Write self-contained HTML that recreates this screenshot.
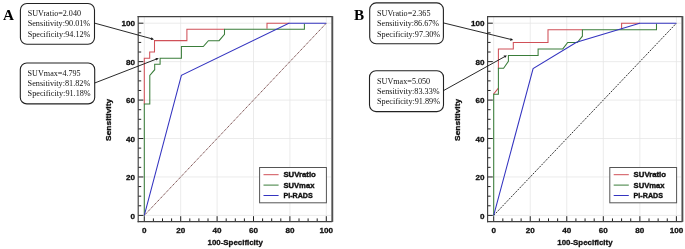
<!DOCTYPE html>
<html><head><meta charset="utf-8"><style>
html,body{margin:0;padding:0;background:#fff;}
svg{display:block;will-change:transform;}
.tl{font-family:"Liberation Sans",sans-serif;font-weight:bold;font-size:8.1px;fill:#111;stroke:#111;stroke-width:0.3px;}
.ax{font-family:"Liberation Sans",sans-serif;font-weight:bold;font-size:7.9px;fill:#111;stroke:#111;stroke-width:0.3px;}
.lg{font-family:"Liberation Sans",sans-serif;font-weight:bold;font-size:7.8px;fill:#111;stroke:#111;stroke-width:0.4px;}
.bx{font-family:"Liberation Serif",serif;font-size:9.2px;fill:#111;}
.pl{font-family:"Liberation Serif",serif;font-weight:bold;font-size:15.2px;fill:#000;}
</style></head><body>
<svg width="685" height="249" viewBox="0 0 685 249">
<rect width="685" height="249" fill="#fff"/>
<line x1="144.30" y1="16.9" x2="144.30" y2="221" stroke="#e6e6e6" stroke-width="0.8"/>
<line x1="138.60" y1="215.40" x2="331.00" y2="215.40" stroke="#e6e6e6" stroke-width="0.8"/>
<line x1="180.70" y1="16.9" x2="180.70" y2="221" stroke="#e6e6e6" stroke-width="0.8"/>
<line x1="138.60" y1="176.96" x2="331.00" y2="176.96" stroke="#e6e6e6" stroke-width="0.8"/>
<line x1="217.10" y1="16.9" x2="217.10" y2="221" stroke="#e6e6e6" stroke-width="0.8"/>
<line x1="138.60" y1="138.52" x2="331.00" y2="138.52" stroke="#e6e6e6" stroke-width="0.8"/>
<line x1="253.50" y1="16.9" x2="253.50" y2="221" stroke="#e6e6e6" stroke-width="0.8"/>
<line x1="138.60" y1="100.08" x2="331.00" y2="100.08" stroke="#e6e6e6" stroke-width="0.8"/>
<line x1="289.90" y1="16.9" x2="289.90" y2="221" stroke="#e6e6e6" stroke-width="0.8"/>
<line x1="138.60" y1="61.64" x2="331.00" y2="61.64" stroke="#e6e6e6" stroke-width="0.8"/>
<line x1="326.30" y1="16.9" x2="326.30" y2="221" stroke="#e6e6e6" stroke-width="0.8"/>
<line x1="138.60" y1="23.20" x2="331.00" y2="23.20" stroke="#e6e6e6" stroke-width="0.8"/>
<line x1="144.30" y1="221.4" x2="144.30" y2="216.20" stroke="#222" stroke-width="1"/>
<line x1="138.20" y1="215.40" x2="143.40" y2="215.40" stroke="#222" stroke-width="1"/>
<line x1="153.40" y1="221.4" x2="153.40" y2="218.40" stroke="#222" stroke-width="1"/>
<line x1="138.20" y1="205.79" x2="141.20" y2="205.79" stroke="#222" stroke-width="1"/>
<line x1="162.50" y1="221.4" x2="162.50" y2="218.40" stroke="#222" stroke-width="1"/>
<line x1="138.20" y1="196.18" x2="141.20" y2="196.18" stroke="#222" stroke-width="1"/>
<line x1="171.60" y1="221.4" x2="171.60" y2="218.40" stroke="#222" stroke-width="1"/>
<line x1="138.20" y1="186.57" x2="141.20" y2="186.57" stroke="#222" stroke-width="1"/>
<line x1="180.70" y1="221.4" x2="180.70" y2="216.20" stroke="#222" stroke-width="1"/>
<line x1="138.20" y1="176.96" x2="143.40" y2="176.96" stroke="#222" stroke-width="1"/>
<line x1="189.80" y1="221.4" x2="189.80" y2="218.40" stroke="#222" stroke-width="1"/>
<line x1="138.20" y1="167.35" x2="141.20" y2="167.35" stroke="#222" stroke-width="1"/>
<line x1="198.90" y1="221.4" x2="198.90" y2="218.40" stroke="#222" stroke-width="1"/>
<line x1="138.20" y1="157.74" x2="141.20" y2="157.74" stroke="#222" stroke-width="1"/>
<line x1="208.00" y1="221.4" x2="208.00" y2="218.40" stroke="#222" stroke-width="1"/>
<line x1="138.20" y1="148.13" x2="141.20" y2="148.13" stroke="#222" stroke-width="1"/>
<line x1="217.10" y1="221.4" x2="217.10" y2="216.20" stroke="#222" stroke-width="1"/>
<line x1="138.20" y1="138.52" x2="143.40" y2="138.52" stroke="#222" stroke-width="1"/>
<line x1="226.20" y1="221.4" x2="226.20" y2="218.40" stroke="#222" stroke-width="1"/>
<line x1="138.20" y1="128.91" x2="141.20" y2="128.91" stroke="#222" stroke-width="1"/>
<line x1="235.30" y1="221.4" x2="235.30" y2="218.40" stroke="#222" stroke-width="1"/>
<line x1="138.20" y1="119.30" x2="141.20" y2="119.30" stroke="#222" stroke-width="1"/>
<line x1="244.40" y1="221.4" x2="244.40" y2="218.40" stroke="#222" stroke-width="1"/>
<line x1="138.20" y1="109.69" x2="141.20" y2="109.69" stroke="#222" stroke-width="1"/>
<line x1="253.50" y1="221.4" x2="253.50" y2="216.20" stroke="#222" stroke-width="1"/>
<line x1="138.20" y1="100.08" x2="143.40" y2="100.08" stroke="#222" stroke-width="1"/>
<line x1="262.60" y1="221.4" x2="262.60" y2="218.40" stroke="#222" stroke-width="1"/>
<line x1="138.20" y1="90.47" x2="141.20" y2="90.47" stroke="#222" stroke-width="1"/>
<line x1="271.70" y1="221.4" x2="271.70" y2="218.40" stroke="#222" stroke-width="1"/>
<line x1="138.20" y1="80.86" x2="141.20" y2="80.86" stroke="#222" stroke-width="1"/>
<line x1="280.80" y1="221.4" x2="280.80" y2="218.40" stroke="#222" stroke-width="1"/>
<line x1="138.20" y1="71.25" x2="141.20" y2="71.25" stroke="#222" stroke-width="1"/>
<line x1="289.90" y1="221.4" x2="289.90" y2="216.20" stroke="#222" stroke-width="1"/>
<line x1="138.20" y1="61.64" x2="143.40" y2="61.64" stroke="#222" stroke-width="1"/>
<line x1="299.00" y1="221.4" x2="299.00" y2="218.40" stroke="#222" stroke-width="1"/>
<line x1="138.20" y1="52.03" x2="141.20" y2="52.03" stroke="#222" stroke-width="1"/>
<line x1="308.10" y1="221.4" x2="308.10" y2="218.40" stroke="#222" stroke-width="1"/>
<line x1="138.20" y1="42.42" x2="141.20" y2="42.42" stroke="#222" stroke-width="1"/>
<line x1="317.20" y1="221.4" x2="317.20" y2="218.40" stroke="#222" stroke-width="1"/>
<line x1="138.20" y1="32.81" x2="141.20" y2="32.81" stroke="#222" stroke-width="1"/>
<line x1="326.30" y1="221.4" x2="326.30" y2="216.20" stroke="#222" stroke-width="1"/>
<line x1="138.20" y1="23.20" x2="143.40" y2="23.20" stroke="#222" stroke-width="1"/>
<text x="144.30" y="232.9" text-anchor="middle" class="tl">0</text>
<text x="135.00" y="218.60" text-anchor="end" class="tl">0</text>
<text x="180.70" y="232.9" text-anchor="middle" class="tl">20</text>
<text x="135.00" y="180.16" text-anchor="end" class="tl">20</text>
<text x="217.10" y="232.9" text-anchor="middle" class="tl">40</text>
<text x="135.00" y="141.72" text-anchor="end" class="tl">40</text>
<text x="253.50" y="232.9" text-anchor="middle" class="tl">60</text>
<text x="135.00" y="103.28" text-anchor="end" class="tl">60</text>
<text x="289.90" y="232.9" text-anchor="middle" class="tl">80</text>
<text x="135.00" y="64.84" text-anchor="end" class="tl">80</text>
<text x="326.30" y="232.9" text-anchor="middle" class="tl">100</text>
<text x="135.00" y="26.40" text-anchor="end" class="tl">100</text>
<line x1="138.20" y1="16.0" x2="138.20" y2="222.3" stroke="#404040" stroke-width="1.15"/>
<line x1="137.60" y1="16.6" x2="332.30" y2="16.6" stroke="#404040" stroke-width="1.15"/>
<line x1="137.60" y1="221.6" x2="332.30" y2="221.6" stroke="#404040" stroke-width="1.4"/>
<line x1="332.30" y1="16.1" x2="332.30" y2="221.9" stroke="#505050" stroke-width="1.9"/>
<text x="235.20" y="245.2" text-anchor="middle" class="ax">100-Specificity</text>
<text transform="translate(110.90,119.9) rotate(-90)" x="-21" class="ax" textLength="42" lengthAdjust="spacingAndGlyphs">Sensitivity</text>
<path d="M144.3,215.4 L326.3,23.2" stroke="#6a3838" stroke-width="1" stroke-dasharray="1.2,0.8" fill="none"/>
<path d="M144.3,104.2 V58.3 H149.7 V52 H154.5 V40.6 H186.9 V29.2 H224.5 M267,28.7 V23.2 H289.5" stroke="#d05058" stroke-width="1.05" fill="none"/>
<path d="M144.3,215.4 V103.9 H149.8 V75.4 L154.7,69.7 V64.2 H160.1 V58.2 H181.4 V46.5 H203.3 L208.4,40.7 H219.1 L224.5,34.3 V29.2 H304.4 V23.75" stroke="#3a7d3a" stroke-width="1.05" fill="none"/>
<path d="M144.3,215.4 L181.4,75.4 L288.8,23.2 H326.3" stroke="#3434c0" stroke-width="1.05" fill="none"/>
<rect x="259.60" y="167.5" width="66.8" height="35.3" fill="#fff" stroke="#555" stroke-width="1"/>
<line x1="263.50" y1="174.70" x2="278.60" y2="174.70" stroke="#d05058" stroke-width="1"/>
<text x="283.40" y="177.20" class="lg" textLength="32.4" lengthAdjust="spacingAndGlyphs">SUVratio</text>
<line x1="263.50" y1="185.10" x2="278.60" y2="185.10" stroke="#3a7d3a" stroke-width="1"/>
<text x="283.40" y="187.60" class="lg" textLength="31.0" lengthAdjust="spacingAndGlyphs">SUVmax</text>
<line x1="263.50" y1="195.50" x2="278.60" y2="195.50" stroke="#3434c0" stroke-width="1"/>
<text x="283.40" y="198.00" class="lg" textLength="29.4" lengthAdjust="spacingAndGlyphs">PI-RADS</text>
<line x1="493.70" y1="16.9" x2="493.70" y2="221" stroke="#e6e6e6" stroke-width="0.8"/>
<line x1="488.00" y1="215.40" x2="681.10" y2="215.40" stroke="#e6e6e6" stroke-width="0.8"/>
<line x1="530.24" y1="16.9" x2="530.24" y2="221" stroke="#e6e6e6" stroke-width="0.8"/>
<line x1="488.00" y1="176.96" x2="681.10" y2="176.96" stroke="#e6e6e6" stroke-width="0.8"/>
<line x1="566.78" y1="16.9" x2="566.78" y2="221" stroke="#e6e6e6" stroke-width="0.8"/>
<line x1="488.00" y1="138.52" x2="681.10" y2="138.52" stroke="#e6e6e6" stroke-width="0.8"/>
<line x1="603.32" y1="16.9" x2="603.32" y2="221" stroke="#e6e6e6" stroke-width="0.8"/>
<line x1="488.00" y1="100.08" x2="681.10" y2="100.08" stroke="#e6e6e6" stroke-width="0.8"/>
<line x1="639.86" y1="16.9" x2="639.86" y2="221" stroke="#e6e6e6" stroke-width="0.8"/>
<line x1="488.00" y1="61.64" x2="681.10" y2="61.64" stroke="#e6e6e6" stroke-width="0.8"/>
<line x1="676.40" y1="16.9" x2="676.40" y2="221" stroke="#e6e6e6" stroke-width="0.8"/>
<line x1="488.00" y1="23.20" x2="681.10" y2="23.20" stroke="#e6e6e6" stroke-width="0.8"/>
<line x1="493.70" y1="221.4" x2="493.70" y2="216.20" stroke="#222" stroke-width="1"/>
<line x1="487.60" y1="215.40" x2="492.80" y2="215.40" stroke="#222" stroke-width="1"/>
<line x1="502.83" y1="221.4" x2="502.83" y2="218.40" stroke="#222" stroke-width="1"/>
<line x1="487.60" y1="205.79" x2="490.60" y2="205.79" stroke="#222" stroke-width="1"/>
<line x1="511.97" y1="221.4" x2="511.97" y2="218.40" stroke="#222" stroke-width="1"/>
<line x1="487.60" y1="196.18" x2="490.60" y2="196.18" stroke="#222" stroke-width="1"/>
<line x1="521.11" y1="221.4" x2="521.11" y2="218.40" stroke="#222" stroke-width="1"/>
<line x1="487.60" y1="186.57" x2="490.60" y2="186.57" stroke="#222" stroke-width="1"/>
<line x1="530.24" y1="221.4" x2="530.24" y2="216.20" stroke="#222" stroke-width="1"/>
<line x1="487.60" y1="176.96" x2="492.80" y2="176.96" stroke="#222" stroke-width="1"/>
<line x1="539.38" y1="221.4" x2="539.38" y2="218.40" stroke="#222" stroke-width="1"/>
<line x1="487.60" y1="167.35" x2="490.60" y2="167.35" stroke="#222" stroke-width="1"/>
<line x1="548.51" y1="221.4" x2="548.51" y2="218.40" stroke="#222" stroke-width="1"/>
<line x1="487.60" y1="157.74" x2="490.60" y2="157.74" stroke="#222" stroke-width="1"/>
<line x1="557.64" y1="221.4" x2="557.64" y2="218.40" stroke="#222" stroke-width="1"/>
<line x1="487.60" y1="148.13" x2="490.60" y2="148.13" stroke="#222" stroke-width="1"/>
<line x1="566.78" y1="221.4" x2="566.78" y2="216.20" stroke="#222" stroke-width="1"/>
<line x1="487.60" y1="138.52" x2="492.80" y2="138.52" stroke="#222" stroke-width="1"/>
<line x1="575.92" y1="221.4" x2="575.92" y2="218.40" stroke="#222" stroke-width="1"/>
<line x1="487.60" y1="128.91" x2="490.60" y2="128.91" stroke="#222" stroke-width="1"/>
<line x1="585.05" y1="221.4" x2="585.05" y2="218.40" stroke="#222" stroke-width="1"/>
<line x1="487.60" y1="119.30" x2="490.60" y2="119.30" stroke="#222" stroke-width="1"/>
<line x1="594.19" y1="221.4" x2="594.19" y2="218.40" stroke="#222" stroke-width="1"/>
<line x1="487.60" y1="109.69" x2="490.60" y2="109.69" stroke="#222" stroke-width="1"/>
<line x1="603.32" y1="221.4" x2="603.32" y2="216.20" stroke="#222" stroke-width="1"/>
<line x1="487.60" y1="100.08" x2="492.80" y2="100.08" stroke="#222" stroke-width="1"/>
<line x1="612.46" y1="221.4" x2="612.46" y2="218.40" stroke="#222" stroke-width="1"/>
<line x1="487.60" y1="90.47" x2="490.60" y2="90.47" stroke="#222" stroke-width="1"/>
<line x1="621.59" y1="221.4" x2="621.59" y2="218.40" stroke="#222" stroke-width="1"/>
<line x1="487.60" y1="80.86" x2="490.60" y2="80.86" stroke="#222" stroke-width="1"/>
<line x1="630.73" y1="221.4" x2="630.73" y2="218.40" stroke="#222" stroke-width="1"/>
<line x1="487.60" y1="71.25" x2="490.60" y2="71.25" stroke="#222" stroke-width="1"/>
<line x1="639.86" y1="221.4" x2="639.86" y2="216.20" stroke="#222" stroke-width="1"/>
<line x1="487.60" y1="61.64" x2="492.80" y2="61.64" stroke="#222" stroke-width="1"/>
<line x1="649.00" y1="221.4" x2="649.00" y2="218.40" stroke="#222" stroke-width="1"/>
<line x1="487.60" y1="52.03" x2="490.60" y2="52.03" stroke="#222" stroke-width="1"/>
<line x1="658.13" y1="221.4" x2="658.13" y2="218.40" stroke="#222" stroke-width="1"/>
<line x1="487.60" y1="42.42" x2="490.60" y2="42.42" stroke="#222" stroke-width="1"/>
<line x1="667.27" y1="221.4" x2="667.27" y2="218.40" stroke="#222" stroke-width="1"/>
<line x1="487.60" y1="32.81" x2="490.60" y2="32.81" stroke="#222" stroke-width="1"/>
<line x1="676.40" y1="221.4" x2="676.40" y2="216.20" stroke="#222" stroke-width="1"/>
<line x1="487.60" y1="23.20" x2="492.80" y2="23.20" stroke="#222" stroke-width="1"/>
<text x="493.70" y="232.9" text-anchor="middle" class="tl">0</text>
<text x="484.40" y="218.60" text-anchor="end" class="tl">0</text>
<text x="530.24" y="232.9" text-anchor="middle" class="tl">20</text>
<text x="484.40" y="180.16" text-anchor="end" class="tl">20</text>
<text x="566.78" y="232.9" text-anchor="middle" class="tl">40</text>
<text x="484.40" y="141.72" text-anchor="end" class="tl">40</text>
<text x="603.32" y="232.9" text-anchor="middle" class="tl">60</text>
<text x="484.40" y="103.28" text-anchor="end" class="tl">60</text>
<text x="639.86" y="232.9" text-anchor="middle" class="tl">80</text>
<text x="484.40" y="64.84" text-anchor="end" class="tl">80</text>
<text x="676.40" y="232.9" text-anchor="middle" class="tl">100</text>
<text x="484.40" y="26.40" text-anchor="end" class="tl">100</text>
<line x1="487.60" y1="16.0" x2="487.60" y2="222.3" stroke="#404040" stroke-width="1.15"/>
<line x1="487.00" y1="16.6" x2="682.40" y2="16.6" stroke="#404040" stroke-width="1.15"/>
<line x1="487.00" y1="221.6" x2="682.40" y2="221.6" stroke="#404040" stroke-width="1.4"/>
<line x1="682.40" y1="16.1" x2="682.40" y2="221.9" stroke="#505050" stroke-width="1.9"/>
<text x="584.95" y="245.2" text-anchor="middle" class="ax">100-Specificity</text>
<text transform="translate(460.30,119.9) rotate(-90)" x="-21" class="ax" textLength="42" lengthAdjust="spacingAndGlyphs">Sensitivity</text>
<path d="M493.7,215.4 L676.4,23.2" stroke="#333" stroke-width="1" stroke-dasharray="2,1.15" fill="none"/>
<path d="M493.7,94.6 V93.9 L498.4,88.1 M498.4,68.8 V48.9 H513.3 V42.5 H548 V29.7 H582.4 M621.6,29.2 V23.2 H640" stroke="#d05058" stroke-width="1.05" fill="none"/>
<path d="M493.7,215.4 V94.3 H498.4 V68.3 H503.6 L508.4,61.4 V55.4 H538.1 V48.9 H562.8 L567.7,42.5 H577.3 L582.4,36.2 V29.7 H656.5 V23.75" stroke="#3a7d3a" stroke-width="1.05" fill="none"/>
<path d="M493.7,215.4 L533.1,68.5 L576.5,42.3 L639.7,23.2 H676.4" stroke="#3434c0" stroke-width="1.05" fill="none"/>
<rect x="609.80" y="167.5" width="66.8" height="35.3" fill="#fff" stroke="#555" stroke-width="1"/>
<line x1="613.70" y1="174.70" x2="628.80" y2="174.70" stroke="#d05058" stroke-width="1"/>
<text x="633.60" y="177.20" class="lg" textLength="32.4" lengthAdjust="spacingAndGlyphs">SUVratio</text>
<line x1="613.70" y1="185.10" x2="628.80" y2="185.10" stroke="#3a7d3a" stroke-width="1"/>
<text x="633.60" y="187.60" class="lg" textLength="31.0" lengthAdjust="spacingAndGlyphs">SUVmax</text>
<line x1="613.70" y1="195.50" x2="628.80" y2="195.50" stroke="#3434c0" stroke-width="1"/>
<text x="633.60" y="198.00" class="lg" textLength="29.4" lengthAdjust="spacingAndGlyphs">PI-RADS</text>
<rect x="20.4" y="3.5" width="74.10" height="40.80" rx="6.5" ry="6.5" fill="#fff" stroke="#222" stroke-width="1.1"/>
<text x="27.7" y="16.00" class="bx" textLength="53.3" lengthAdjust="spacingAndGlyphs">SUVratio=2.040</text>
<text x="27.7" y="26.40" class="bx" textLength="62.5" lengthAdjust="spacingAndGlyphs">Sensitivity:90.01%</text>
<text x="27.7" y="36.80" class="bx" textLength="62.7" lengthAdjust="spacingAndGlyphs">Specificity:94.12%</text>
<rect x="20.3" y="63.0" width="74.40" height="40.90" rx="6.5" ry="6.5" fill="#fff" stroke="#222" stroke-width="1.1"/>
<text x="27.6" y="75.50" class="bx" textLength="53.1" lengthAdjust="spacingAndGlyphs">SUVmax=4.795</text>
<text x="27.6" y="85.90" class="bx" textLength="62.7" lengthAdjust="spacingAndGlyphs">Sensitivity:81.82%</text>
<text x="27.6" y="96.30" class="bx" textLength="63.1" lengthAdjust="spacingAndGlyphs">Specificity:91.18%</text>
<rect x="369.7" y="2.9" width="73.70" height="40.90" rx="6.5" ry="6.5" fill="#fff" stroke="#222" stroke-width="1.1"/>
<text x="377" y="15.85" class="bx" textLength="53.5" lengthAdjust="spacingAndGlyphs">SUVratio=2.365</text>
<text x="377" y="26.25" class="bx" textLength="62.1" lengthAdjust="spacingAndGlyphs">Sensitivity:86.67%</text>
<text x="377" y="36.65" class="bx" textLength="63.2" lengthAdjust="spacingAndGlyphs">Specificity:97.30%</text>
<rect x="369.5" y="70.7" width="74.00" height="40.90" rx="6.5" ry="6.5" fill="#fff" stroke="#222" stroke-width="1.1"/>
<text x="377" y="83.50" class="bx" textLength="53.2" lengthAdjust="spacingAndGlyphs">SUVmax=5.050</text>
<text x="377" y="93.90" class="bx" textLength="62.6" lengthAdjust="spacingAndGlyphs">Sensitivity:83.33%</text>
<text x="377" y="104.30" class="bx" textLength="63.0" lengthAdjust="spacingAndGlyphs">Specificity:91.89%</text>
<line x1="94.5" y1="23.1" x2="151.11" y2="38.61" stroke="#111" stroke-width="0.9"/>
<polygon points="154.00,39.40 150.72,40.01 151.49,37.21" fill="#111"/>
<line x1="94.7" y1="83" x2="156.00" y2="59.23" stroke="#111" stroke-width="0.9"/>
<polygon points="158.80,58.15 156.53,60.59 155.48,57.88" fill="#111"/>
<line x1="443.4" y1="22.9" x2="510.29" y2="39.29" stroke="#111" stroke-width="0.9"/>
<polygon points="513.20,40.00 509.94,40.69 510.63,37.88" fill="#111"/>
<line x1="443.5" y1="90.6" x2="504.28" y2="56.86" stroke="#111" stroke-width="0.9"/>
<polygon points="506.90,55.40 504.98,58.12 503.57,55.59" fill="#111"/>
<text x="3.0" y="19.9" class="pl">A</text>
<text x="354.1" y="19.75" class="pl">B</text>
</svg>
</body></html>
